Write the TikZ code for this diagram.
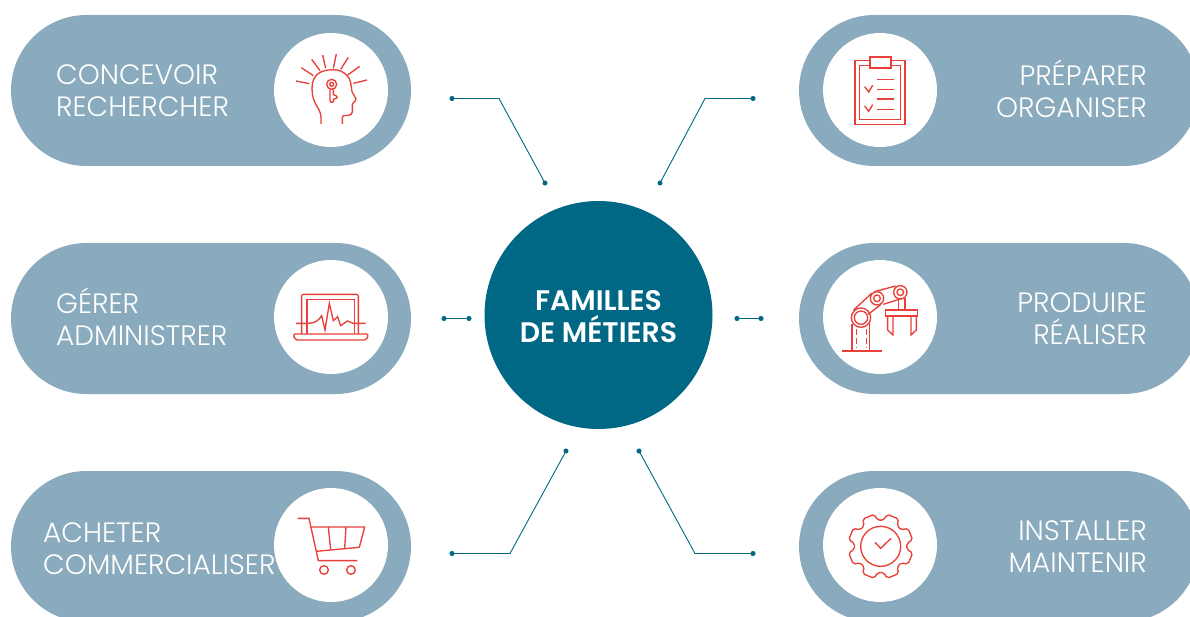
\documentclass[tikz,border=0pt]{standalone}
\usepackage{fontspec}
\setmainfont{Poppins Light}[BoldFont={Poppins SemiBold}]
\usetikzlibrary{arrows.meta}
\definecolor{petrol}{HTML}{006885}
\definecolor{greyblue}{HTML}{8AAABD}
\definecolor{iconred}{HTML}{E8403A}
\tikzset{>=latex}
\tikzset{pill/.style={rectangle, fill=greyblue, rounded corners=75.5pt, minimum width=400pt, minimum height=151pt, inner sep=0pt}}
\tikzset{disc/.style={circle, fill=white, minimum size=114pt, inner sep=0pt}}
\tikzset{label/.style={text=white, font=\fontsize{28}{32}\selectfont, inner sep=0pt}}
\tikzset{link/.style={petrol, line width=0.9pt, {Circle[length=5pt]}-{Circle[length=5pt]}, shorten >=-2.5pt, shorten <=-2.5pt}}
\tikzset{icon/.style 2 args={shift={(#1,#2)}, x=.3333pt, y=-.3333pt, iconred, line width=1.35pt}}

\begin{document}
\begin{tikzpicture}[x=1pt, y=-1pt]

    \useasboundingbox (0,0) rectangle (1190,617);
    \clip (0,0) rectangle (1190,617);

    \node[pill] (concevoir) at (211,90.5) {};
    \node[pill] (gerer) at (211,318.5) {};
    \node[pill] (acheter) at (211,546.5) {};
    \node[pill] (preparer) at (999,90.5) {};
    \node[pill] (produire) at (999,318.5) {};
    \node[pill] (installer) at (999,546.5) {};

    \node[disc] (concevoirdisc) at (331,90) {};
    \node[disc] (gererdisc) at (331,317) {};
    \node[disc] (acheterdisc) at (331,545) {};
    \node[disc] (preparerdisc) at (880,90) {};
    \node[disc] (produiredisc) at (880,317) {};
    \node[disc] (installerdisc) at (880,545) {};

    \node[circle, fill=petrol, minimum size=228pt, inner sep=0pt] (familles) at (598.5,315) {};
    \node[text=white, font=\fontsize{28.3}{32}\selectfont\bfseries, align=center, inner sep=0pt] (famillestext) at (598.5,317) {FAMILLES\\DE MÉTIERS};

    \node[label, align=left, anchor=west] (concevoirtext) at (56,91) {CONCEVOIR\\RECHERCHER};
    \node[label, align=left, anchor=west] (gerertext) at (56,316.5) {GÉRER\\ADMINISTRER};
    \node[label, align=left, anchor=west] (achetertext) at (43,549) {ACHETER\\COMMERCIALISER};
    \node[label, align=right, anchor=east] (preparertext) at (1147,88.5) {PRÉPARER\\ORGANISER};
    \node[label, align=right, anchor=east] (produiretext) at (1147,319) {PRODUIRE\\RÉALISER};
    \node[label, align=right, anchor=east] (installertext) at (1147,547) {INSTALLER\\MAINTENIR};

    \coordinate (tl) at (452,98.5);
    \coordinate (tlb) at (499,98.5);
    \coordinate (tle) at (545,183);
    \coordinate (tr) at (753,98.5);
    \coordinate (trb) at (705,98.5);
    \coordinate (tre) at (660,183);
    \coordinate (ml) at (444,318.5);
    \coordinate (mle) at (469,318.5);
    \coordinate (mr) at (737,318.5);
    \coordinate (mre) at (761,318.5);
    \coordinate (bl) at (452,553.5);
    \coordinate (blb) at (510,553.5);
    \coordinate (ble) at (566,451);
    \coordinate (br) at (753,553.5);
    \coordinate (brb) at (695,553.5);
    \coordinate (bre) at (639,451);

    \draw[link] (tl) -- (tlb) -- (tle);
    \draw[link] (tr) -- (trb) -- (tre);
    \draw[link] (ml) -- (mle);
    \draw[link] (mr) -- (mre);
    \draw[link] (bl) -- (blb) -- (ble);
    \draw[link] (br) -- (brb) -- (bre);

    % head
    \begin{scope}[icon={270}{25}]
        \draw[rounded corners=4pt] (153,297) -- (153,265) -- (130,225) -- (125,190) -- (130,160) -- (150,140) -- (185,133) -- (215,137) -- (240,160) -- (246,200);
        \draw[rounded corners=1.5pt] (246,200) -- (260,225) -- (247,235) -- (247,265) -- (240,271) -- (217,272) -- (217,297);
        \foreach \a/\b/\c/\d in {78/168/118/176, 94/128/130/152, 125/103/150/137, 158/90/167/130, 199/87/190/130, 235/97/212/133, 269/124/233/150, 291/165/250/175}
            \draw (\a,\b) -- (\c,\d);
        \draw (185,178) circle (15);
        \draw (185,178) circle (6);
        \draw[rounded corners=1pt] (180,193) -- (180,231) -- (190,232) -- (190,222) -- (202,220) -- (200,212) -- (190,210) -- (190,193);
    \end{scope}

    % laptop
    \begin{scope}[icon={270}{255}]
        \draw[rounded corners=2pt] (95,237) -- (95,118) -- (265,118) -- (265,237);
        \draw (111,237) -- (111,133) -- (253,133) -- (253,237);
        \draw[rounded corners=2pt] (70,237) -- (295,237) -- (290,255) -- (75,255) -- cycle;
        \draw (78,205) -- (115,205) .. controls (135,205) and (148,195) .. (155,182) -- (165,225) -- (178,145) -- (190,197) -- (203,185) -- (212,212) -- (232,198) -- (250,205) -- (287,205);
    \end{scope}

    % cart
    \begin{scope}[icon={270}{485}]
        \draw (83,100) -- (117,100) -- (145,227) -- (262,227);
        \draw (122,126) -- (284,126) -- (268,187) -- (138,199);
        \draw (175,126) -- (182,194);
        \draw (228,126) -- (224,191);
        \draw (162,255) circle (13);
        \draw (243,255) circle (13);
    \end{scope}

    % clipboard
    \begin{scope}[icon={815}{25}]
        \draw (120,106) rectangle (270,298);
        \draw (134,121) rectangle (257,284);
        \draw[fill=white, line width=2pt] (165,96) rectangle (229,129);
        \foreach \y in {164,194,222,253}
            \draw (186,\y) -- (238,\y);
        \draw (149,185) -- (161,201) -- (173,181);
        \draw (149,243) -- (161,259) -- (173,239);
    \end{scope}

    % robot arm
    \begin{scope}[icon={815}{255}]
        \draw (81,288) -- (200,288);
        \draw (111,207) -- (111,288);
        \draw (164,205) -- (164,288);
        \draw[dash pattern=on 6pt off 3pt] (125,222) -- (125,280);
        \draw[dash pattern=on 6pt off 3pt] (155,222) -- (155,280);
        \draw (116,165) -- (170,115);
        \draw (160,178) -- (198,148);
        \draw (178,110) -- (242,93);
        \draw (205,148) -- (262,130);
        \draw (250,130) -- (250,165);
        \draw (270,128) -- (270,165);
        \draw (138,188) circle (29);
        \draw (138,188) circle (20);
        \draw (186,130) circle (20);
        \draw (186,130) circle (10);
        \draw (256,112) circle (20);
        \draw (256,112) circle (10);
        \draw (212,165) rectangle (308,183);
        \draw (218,183) -- (218,225) -- (234,240) -- (234,183);
        \draw (288,183) -- (288,240) -- (304,225) -- (304,183);
    \end{scope}

    % gear
    \begin{scope}[icon={815}{485}]
        \draw[rounded corners=2pt, shift={(197,184)}] (6.5:79) \foreach \t in {22.5,67.5,...,337.5} { -- (\t-16:79) -- (\t-11:98) -- (\t+11:98) -- (\t+16:79) } -- cycle;
        \draw (197,184) circle (60);
        \draw (180,172) -- (197,190) -- (228,160);
    \end{scope}

\end{tikzpicture}
\end{document}
